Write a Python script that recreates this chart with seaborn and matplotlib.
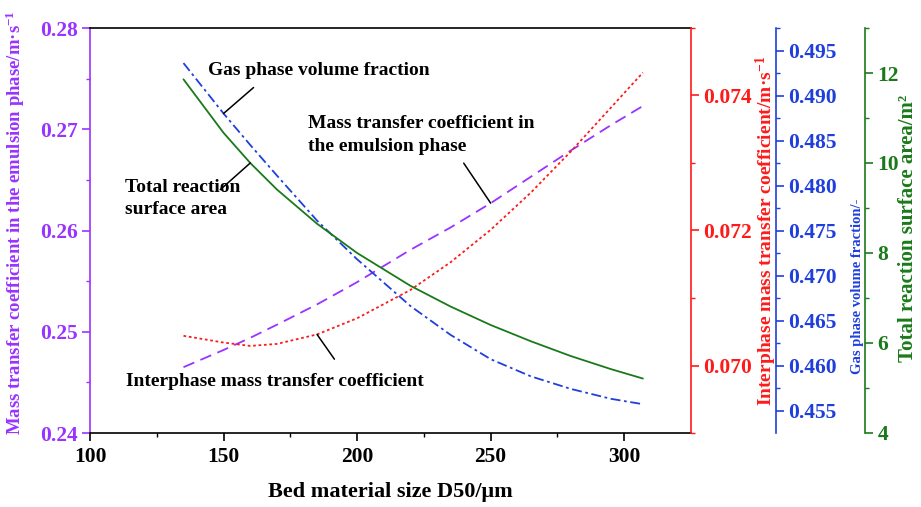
import matplotlib
matplotlib.use("Agg")
import matplotlib.pyplot as plt
import seaborn as sns
import pandas as pd
from matplotlib.ticker import MultipleLocator, FixedLocator, FormatStrFormatter

# Bed material size D50 (um)
d50 = [135, 150, 160, 170, 185, 200, 220, 235, 250, 265, 280, 295, 307]
# Mass transfer coefficient in the emulsion phase (m/s)
emulsion_k = [0.2465, 0.2482, 0.2494, 0.2507, 0.2527, 0.2549, 0.2581, 0.2603,
              0.2627, 0.2653, 0.2679, 0.2704, 0.2723]
# Interphase mass transfer coefficient (m/s)
interphase_k = [0.07044, 0.07034, 0.07029, 0.07032, 0.07046, 0.07070, 0.07112,
                0.07153, 0.07201, 0.07256, 0.07317, 0.07382, 0.07434]
# Gas phase volume fraction (-)
gas_fraction = [0.4936, 0.4880, 0.4845, 0.4811, 0.4761, 0.4718, 0.4666, 0.4634,
                0.4607, 0.4588, 0.4574, 0.4563, 0.4557]
# Total reaction surface area (m^2)
surface_area = [11.86, 10.67, 10.00, 9.41, 8.65, 8.00, 7.27, 6.81, 6.40, 6.04,
                5.71, 5.42, 5.21]

df = pd.DataFrame({"d50": d50, "emulsion": emulsion_k, "interphase": interphase_k,
                   "gas": gas_fraction, "area": surface_area})

PURPLE = "#9933ff"
RED = "#ff1a1a"
BLUE = "#1f3fdd"
GREEN = "#1a7a1a"

sns.set_style("ticks")
plt.rcParams["font.family"] = ["Liberation Serif", "DejaVu Serif"]
plt.rcParams["font.weight"] = "bold"
plt.rcParams["axes.labelweight"] = "bold"
plt.rcParams["text.color"] = "black"
plt.rcParams["axes.labelcolor"] = "black"
plt.rcParams["mathtext.fontset"] = "custom"
plt.rcParams["mathtext.rm"] = "Liberation Serif:bold"
plt.rcParams["mathtext.it"] = "Liberation Serif:bold:italic"
plt.rcParams["mathtext.bf"] = "Liberation Serif:bold"

W, H = 921, 507
fig = plt.figure(figsize=(W / 100, H / 100), dpi=100)
ax = fig.add_axes([90 / W, 74 / H, 601 / W, 405 / H])
ax_r = ax.twinx()
ax_b = ax.twinx()
ax_g = ax.twinx()

lw = 1.3
sns.lineplot(data=df, x="d50", y="emulsion", ax=ax, color=PURPLE, lw=lw,
             linestyle=(0, (6.5, 3.7)))
sns.lineplot(data=df, x="d50", y="interphase", ax=ax_r, color=RED, lw=lw,
             linestyle=(0, (1.5, 1.5)))
sns.lineplot(data=df, x="d50", y="gas", ax=ax_b, color=BLUE, lw=lw,
             linestyle=(0, (5.5, 2, 1.5, 2)))
sns.lineplot(data=df, x="d50", y="area", ax=ax_g, color=GREEN, lw=lw)

TICK_FS = 15.5

# x axis
ax.set_xlim(100, 325)
ax.xaxis.set_major_locator(MultipleLocator(50))
ax.xaxis.set_minor_locator(FixedLocator([125, 175, 225, 275]))
ax.set_xlabel("Bed material size D50/μm", fontsize=16, labelpad=11,
              color="black")

spine_w = 1.2
for a in (ax, ax_r, ax_b, ax_g):
    for s in a.spines.values():
        s.set_linewidth(spine_w)

ax.spines["top"].set_color("black")
ax.spines["bottom"].set_color("black")
ax.spines["right"].set_visible(False)
ax.tick_params(axis="x", which="major", direction="out", length=6, width=1.2,
               labelsize=TICK_FS, colors="black", pad=4)
ax.tick_params(axis="x", which="minor", direction="out", length=3, width=1.0,
               colors="black")

# left axis: emulsion phase coefficient
ax.set_ylim(0.24, 0.28)
ax.yaxis.set_major_locator(MultipleLocator(0.01))
ax.yaxis.set_minor_locator(MultipleLocator(0.005))
ax.yaxis.set_major_formatter(FormatStrFormatter("%.2f"))
ax.spines["left"].set_color(PURPLE)
ax.tick_params(axis="y", which="major", direction="out", length=6, width=1.2,
               labelsize=TICK_FS, colors=PURPLE, pad=3)
ax.tick_params(axis="y", which="minor", direction="out", length=3, width=1.0,
               colors=PURPLE)
ax.set_ylabel("Mass transfer coefficient in the emulsion phase/m·s$^{-1}$",
              color=PURPLE, fontsize=13.5)
ax.yaxis.set_label_coords(-0.105, 0.52)


def style_right(a, color, pos, major, minor, fmt, ylim):
    for side in ("left", "top", "bottom"):
        a.spines[side].set_visible(False)
    a.spines["right"].set_position(("axes", pos))
    a.spines["right"].set_color(color)
    a.set_ylim(*ylim)
    a.yaxis.set_major_locator(major)
    a.yaxis.set_minor_locator(minor)
    a.yaxis.set_major_formatter(FormatStrFormatter(fmt))
    a.tick_params(axis="y", which="major", direction="out", length=6, width=1.2,
                  labelsize=TICK_FS, colors=color, pad=3)
    a.tick_params(axis="y", which="minor", direction="out", length=3, width=1.0,
                  colors=color)
    a.set_xlabel("")


style_right(ax_r, RED, 1.0, MultipleLocator(0.002),
            FixedLocator([0.069, 0.071, 0.073, 0.075]), "%.3f", (0.069, 0.075))
ax_r.set_ylabel("Interphase mass transfer coefficient/m·s$^{-1}$",
                color=RED, fontsize=14)
ax_r.yaxis.set_label_coords(1.105, 0.499)

style_right(ax_b, BLUE, 1.1414, MultipleLocator(0.005),
            FixedLocator([0.4575 + 0.005 * i for i in range(9)]), "%.3f",
            (0.4525, 0.4975))
ax_b.set_ylabel("Gas phase volume fraction/-", color=BLUE, fontsize=10.5)
ax_b.yaxis.set_label_coords(1.266, 0.363)

style_right(ax_g, GREEN, 1.2895, MultipleLocator(2),
            FixedLocator([5, 7, 9, 11, 13]), "%d", (4, 13))
ax_g.set_ylabel("Total reaction surface area/m²", color=GREEN, fontsize=15)
ax_g.yaxis.set_label_coords(1.345, 0.506)

# curve annotations with leader lines
txt = dict(fontsize=14, fontweight="bold", color="black", transform=ax.transAxes,
           va="center", ha="left", linespacing=1.4)
ax.text(0.196, 0.896, "Gas phase volume fraction", **txt)
ax.text(0.363, 0.736, "Mass transfer coefficient in\nthe emulsion phase", **txt)
ax.text(0.058, 0.580, "Total reaction\nsurface area", **txt)
ax.text(0.060, 0.128, "Interphase mass transfer coefficient", **txt)

leader = dict(arrowstyle="-", color="black", lw=1.1, shrinkA=0, shrinkB=0)
ax_b.annotate("", xy=(d50[1], gas_fraction[1]), xytext=(21.6, 18.7),
              textcoords="offset points", arrowprops=leader)
ax.annotate("", xy=(d50[8], emulsion_k[8]), xytext=(-19.4, 28.8),
            textcoords="offset points", arrowprops=leader)
ax_g.annotate("", xy=(d50[2], surface_area[2]), xytext=(-21.6, -19.2),
              textcoords="offset points", arrowprops=leader)
ax_r.annotate("", xy=(d50[4], interphase_k[4]), xytext=(12.5, -17.8),
              textcoords="offset points", arrowprops=leader)

fig.savefig("out.png", dpi=100)
